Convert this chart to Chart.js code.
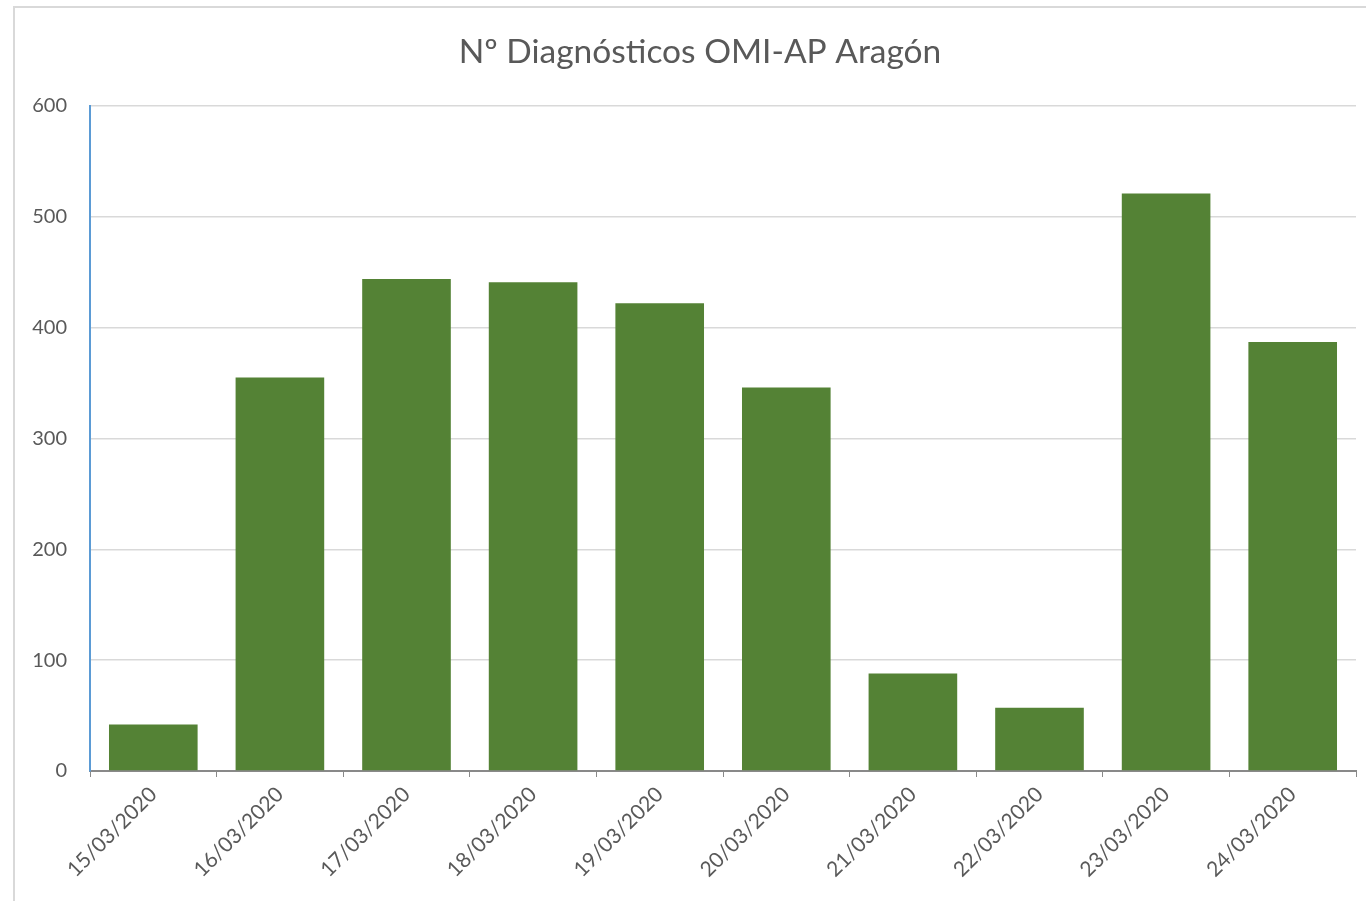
<!DOCTYPE html>
<html>
<head>
<meta charset="utf-8">
<script src="https://cdn.jsdelivr.net/npm/chart.js@4.4.1/dist/chart.umd.min.js"></script>
<style>
    html, body { margin: 0; padding: 0; background: #fff; overflow: hidden; }
    #frame { position: absolute; left: 13px; top: 6px; width: 1400px; height: 1000px; border: 2px solid #d9d9d9; box-sizing: border-box; }
    #wrap { position: absolute; left: 0; top: 0; width: 1400px; height: 901px; }
</style>
</head>
<body>
<div id="frame"></div>
<div id="wrap"><canvas id="chart" width="1400" height="901"></canvas></div>
<script>
const titleText = 'Nº Diagnósticos OMI-AP Aragón';
const fechas = ['15/03/2020', '16/03/2020', '17/03/2020', '18/03/2020', '19/03/2020',
                '20/03/2020', '21/03/2020', '22/03/2020', '23/03/2020', '24/03/2020'];
const diagnosticos = [42, 355, 444, 441, 422, 346, 88, 57, 521, 387];
const yTicks = [0, 100, 200, 300, 400, 500, 600];

const font = 'Lato, "Open Sans", sans-serif';
const grey = '#595959';

// title is centred on the outer frame, not on the canvas, so draw it ourselves
const frameTitle = {
    id: 'frameTitle',
    afterDraw(chart) {
        const ctx = chart.ctx;
        ctx.save();
        ctx.font = `33.5px ${font}`;
        ctx.fillStyle = grey;
        ctx.textAlign = 'center';
        ctx.textBaseline = 'middle';
        ctx.fillText(titleText, 700, 52);
        ctx.restore();
    }
};

new Chart(document.getElementById('chart'), {
    type: 'bar',
    data: {
        labels: fechas,
        datasets: [{
            data: diagnosticos,
            backgroundColor: '#548235',
            borderWidth: 0,
            categoryPercentage: 0.7,
            barPercentage: 1
        }]
    },
    options: {
        responsive: false,
        animation: false,
        layout: { padding: { left: 0, right: 44, top: 106, bottom: 0 } },
        plugins: {
            legend: { display: false },
            tooltip: { enabled: false },
            title: { display: false }
        },
        scales: {
            x: {
                grid: { display: true, offset: true, drawOnChartArea: false, drawTicks: true, tickLength: 6, color: '#898989' },
                border: { color: '#898989', width: 2 },
                ticks: {
                    color: grey, font: { family: font, size: 21 },
                    minRotation: 45, maxRotation: 45, padding: 5, autoSkip: false
                },
                afterFit: s => { s.height = 130; }
            },
            y: {
                min: 0, max: 600,
                afterBuildTicks: s => { s.ticks = yTicks.map(v => ({ value: v })); },
                grid: { color: '#d9d9d9', drawTicks: false, lineWidth: 1.5 },
                border: { color: '#5b9bd5', width: 2 },
                ticks: { color: grey, font: { family: font, size: 20 }, padding: 23 },
                afterFit: s => { s.width = 90; }
            }
        }
    },
    plugins: [frameTitle]
});
</script>
</body>
</html>
